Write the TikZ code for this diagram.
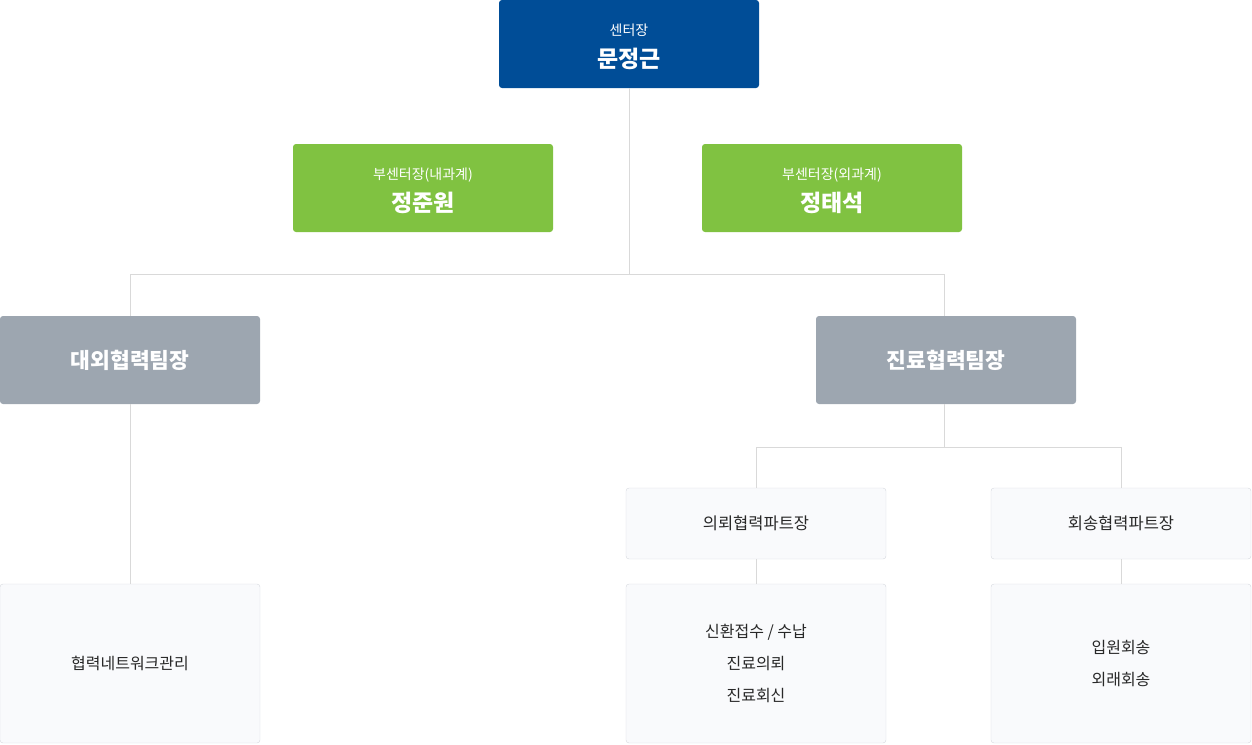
\documentclass[tikz,border=0pt]{standalone}
\usepackage{fontspec}
\setmainfont{Noto Sans CJK KR}
\definecolor{chiefblue}{RGB}{0,77,151}
\definecolor{deputygreen}{RGB}{128,194,65}
\definecolor{teamgray}{RGB}{157,166,176}
\definecolor{partfill}{RGB}{249,250,252}
\definecolor{partline}{RGB}{214,217,222}
\definecolor{linkgray}{RGB}{217,217,217}
\definecolor{textgray}{RGB}{40,40,40}
\tikzset{
  boxbase/.style={rounded corners=3pt,minimum width=260pt,align=center,inner sep=0pt},
  chief/.style={boxbase,fill=chiefblue,text=white,minimum height=88pt},
  deputy/.style={boxbase,fill=deputygreen,text=white,minimum height=88pt},
  team/.style={boxbase,fill=teamgray,text=white,minimum height=88pt,
    font=\fontsize{21.5}{24}\selectfont\bfseries},
  part/.style={boxbase,fill=partfill,draw=partline,text=textgray,minimum height=71pt,
    font=\fontsize{16.5}{20}\selectfont},
  duty/.style={boxbase,fill=partfill,draw=partline,text=textgray,minimum height=159pt,
    font=\fontsize{16}{32}\selectfont},
  link/.style={draw=linkgray,line width=0.8pt},
}
% title over name, set a little low as in the boxes
\newcommand{\titlename}[2]{\raisebox{-4pt}[\height][\depth]{\begin{tabular}{@{}c@{}}%
  {\fontsize{14}{16}\selectfont #1}\\[9pt]{\fontsize{23}{26}\selectfont\bfseries #2}\end{tabular}}}
\begin{document}
\begin{tikzpicture}[x=1pt,y=-1pt]
    \useasboundingbox (0,0) rectangle (1252,744);

    %center head
    \node [chief] (head) at (629,44) {\titlename{센터장}{문정근}};

    %deputies
    \node [deputy] (depin) at (423,188) {\titlename{부센터장(내과계)}{정준원}};
    \node [deputy] (depout) at (832,188) {\titlename{부센터장(외과계)}{정태석}};

    %teams
    \node [team] (ext) at (130,360) {대외협력팀장};
    \node [team] (med) at (946,360) {진료협력팀장};

    %parts
    \node [part] (req) at (756,523.5) {의뢰협력파트장};
    \node [part] (trans) at (1121,523.5) {회송협력파트장};

    %duties
    \node [duty] (extduty) at (130,663.5) {협력네트워크관리};
    \node [duty] (reqduty) at (756,663.5) {신환접수 / 수납\\진료의뢰\\진료회신};
    \node [duty] (transduty) at (1121,663.5) {입원회송\\외래회송};

    %links
    \coordinate (hub) at (629,274);
    \coordinate (split) at (944,447);
    \draw [link] (head.south) -- (hub);
    \draw [link] (hub) -| (ext.north);
    \draw [link] (hub) -| ([xshift=-2pt]med.north);
    \draw [link] ([xshift=-2pt]med.south) -- (split);
    \draw [link] (ext.south) -- (extduty.north);
    \draw [link] (split) -| (req.north);
    \draw [link] (split) -| (trans.north);
    \draw [link] (req.south) -- (reqduty.north);
    \draw [link] (trans.south) -- (transduty.north);
\end{tikzpicture}
\end{document}
